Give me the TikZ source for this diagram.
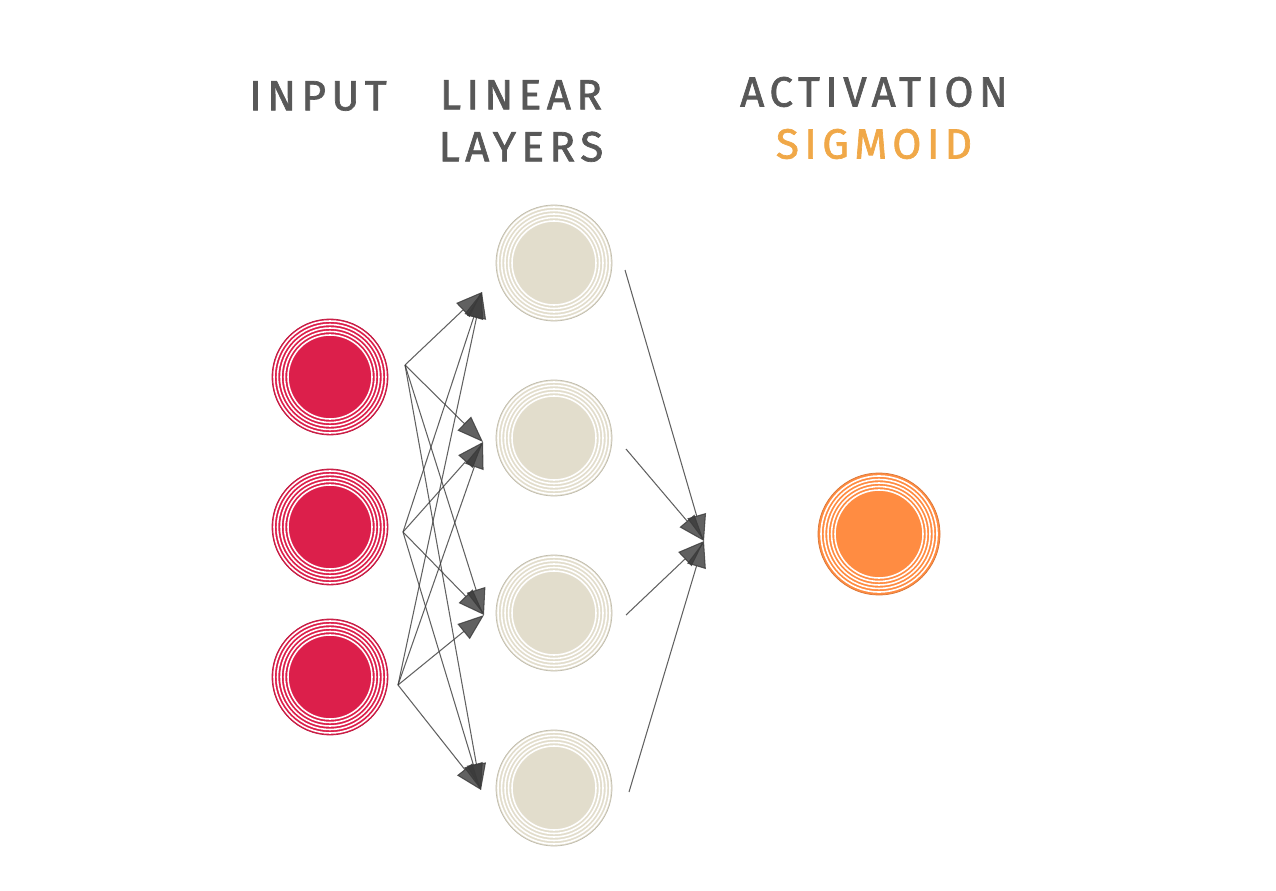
\documentclass[tikz,border=0pt]{standalone}
\usepackage{fontspec}
\setmainfont{Fira Sans}
\usepackage{tikz}
\usetikzlibrary{arrows.meta}
\definecolor{inred}{HTML}{DC1F4B}
\definecolor{linbeige}{HTML}{E2DDCC}
\definecolor{outorange}{HTML}{FF8C42}
\definecolor{ttlgray}{HTML}{585858}
\definecolor{sig}{HTML}{F0A848}
\definecolor{wire}{HTML}{3A3A3A}

\tikzset{
  neuron/.style={circle, inner sep=0pt, minimum size=2.32cm, fill=#1, draw=#1!85!black, line width=0.4pt,
    path picture={\foreach \r in {0.84,0.91,0.98,1.05,1.12}
      \draw[white, line width=0.9pt] (path picture bounding box.center) circle (\r);}},
  bigneuron/.style={circle, inner sep=0pt, minimum size=2.44cm, fill=#1, draw=#1!85!black, line width=0.4pt,
    path picture={\foreach \r in {0.88,0.95,1.02,1.09,1.16}
      \draw[white, line width=0.9pt] (path picture bounding box.center) circle (\r);}},
  ttl/.style={text=ttlgray, align=center,
    font=\fontsize{24}{29.6}\selectfont\addfontfeatures{LetterSpace=13,FakeBold=1.6}},
  wirearrow/.style={-{Triangle[length=15pt,width=11pt]}, wire, line width=0.6pt, opacity=0.8}
}

\begin{document}
\begin{tikzpicture}
\useasboundingbox (0,0) rectangle (25.52,17.8);

\node[ttl] (tin) at (6.36,15.88) {INPUT};
\node[ttl] (tlin) at (10.42,15.38) {LINEAR\\LAYERS};
\node[ttl] (tact) at (17.48,15.44) {ACTIVATION\\\textcolor{sig}{SIGMOID}};

\node[neuron=inred] (i1) at (6.6,10.26) {};
\node[neuron=inred] (i2) at (6.6,7.26) {};
\node[neuron=inred] (i3) at (6.6,4.26) {};

\node[neuron=linbeige] (l1) at (11.08,12.54) {};
\node[neuron=linbeige] (l2) at (11.08,9.04) {};
\node[neuron=linbeige] (l3) at (11.08,5.54) {};
\node[neuron=linbeige] (l4) at (11.08,2.04) {};

\node[bigneuron=outorange] (o) at (17.58,7.12) {};

\coordinate (i1o) at (8.1,10.5);
\coordinate (i2o) at (8.06,7.16);
\coordinate (i3o) at (7.96,4.1);
\coordinate (l1i) at (9.64,11.96);
\coordinate (l2i) at (9.66,8.96);
\coordinate (l3i) at (9.68,5.5);
\coordinate (l4i) at (9.62,2.0);
\coordinate (l1o) at (12.5,12.4);
\coordinate (l2o) at (12.52,8.82);
\coordinate (l3o) at (12.52,5.5);
\coordinate (l4o) at (12.58,1.96);
\coordinate (oi) at (14.08,6.98);

\draw[wirearrow] (i1o) -- (l1i);
\draw[wirearrow] (i1o) -- (l2i);
\draw[wirearrow] (i1o) -- (l3i);
\draw[wirearrow] (i1o) -- (l4i);
\draw[wirearrow] (i2o) -- (l1i);
\draw[wirearrow] (i2o) -- (l2i);
\draw[wirearrow] (i2o) -- (l3i);
\draw[wirearrow] (i2o) -- (l4i);
\draw[wirearrow] (i3o) -- (l1i);
\draw[wirearrow] (i3o) -- (l2i);
\draw[wirearrow] (i3o) -- (l3i);
\draw[wirearrow] (i3o) -- (l4i);

\draw[wirearrow] (l1o) -- (oi);
\draw[wirearrow] (l2o) -- (oi);
\draw[wirearrow] (l3o) -- (oi);
\draw[wirearrow] (l4o) -- (oi);

\end{tikzpicture}
\end{document}
